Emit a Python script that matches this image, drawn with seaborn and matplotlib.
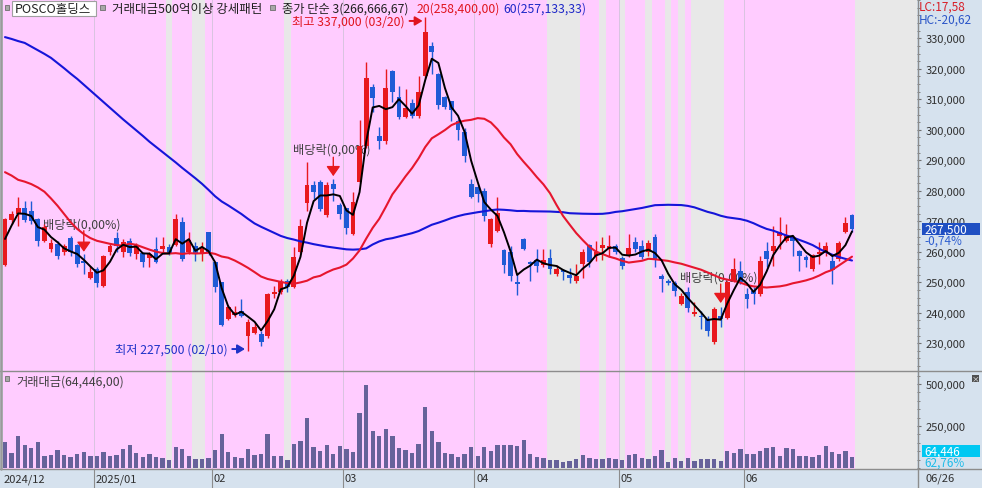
import numpy as np
import pandas as pd
import matplotlib
matplotlib.use("Agg")
import matplotlib.pyplot as plt
import matplotlib.transforms as mtrans
from matplotlib.patches import Rectangle
from matplotlib.lines import Line2D
from matplotlib.ticker import FuncFormatter, FixedLocator
import seaborn as sns

sns.set_theme(style="white")
plt.rcParams['font.family'] = ['Noto Sans CJK KR', 'DejaVu Sans']
plt.rcParams['axes.unicode_minus'] = False

# ---------------- data (thousand won) ----------------
opens_k = [
    255.7, 270.5, 272.4, 274.3, 273.5, 270.8, 263.6, 261.0, 262.6, 259.8,
    264.5, 262.2, 257.0, 251.3, 254.4, 248.7, 259.8, 264.4, 259.8, 263.5,
    259.3, 259.5, 257.9, 261.0, 261.0, 261.7, 262.2, 269.7, 259.8, 262.0,
    259.3, 266.4, 256.6, 250.0, 238.0, 239.3, 240.7, 232.5, 233.5, 233.0,
    232.5, 246.2, 246.7, 250.3, 248.4, 260.0, 276.0, 281.8, 282.8, 272.1,
    282.2, 275.4, 274.3, 265.8, 283.0, 294.8, 313.9, 298.1, 296.2, 319.2,
    310.7, 304.1, 308.7, 304.6, 317.7, 327.6, 318.3, 310.7, 309.4, 302.8,
    299.2, 282.2, 281.1, 280.0, 262.6, 266.9, 260.5, 260.0, 250.0, 264.1,
    256.5, 257.3, 255.7, 257.8, 252.7, 254.1, 252.4, 250.5, 256.0, 262.2,
    258.7, 261.1, 260.8, 262.0, 257.8, 258.7, 263.3, 262.0, 259.8, 264.7,
    252.2, 250.5, 249.7, 242.9, 246.7, 239.6, 239.1, 238.0, 230.3, 238.9,
    238.2, 250.5, 253.8, 246.0, 247.0, 246.2, 260.4, 260.4, 265.3, 263.6,
    264.7, 260.4, 258.2, 254.2, 259.3, 259.8, 257.1, 257.6, 266.6, 272.0]
highs_k = [
    271.2, 273.5, 277.9, 276.8, 276.8, 271.0, 269.1, 264.2, 263.6, 262.5,
    265.3, 262.5, 259.3, 255.4, 254.9, 259.0, 262.6, 266.4, 264.2, 264.5,
    262.9, 260.0, 259.8, 264.7, 264.7, 262.5, 272.4, 271.3, 266.4, 263.2,
    263.2, 266.4, 256.6, 250.0, 242.5, 242.3, 244.5, 238.0, 236.5, 234.0,
    246.5, 248.9, 251.0, 251.0, 261.5, 270.8, 289.5, 283.3, 283.5, 282.8,
    283.9, 276.0, 274.5, 279.7, 303.3, 322.1, 315.0, 300.8, 319.9, 319.5,
    314.5, 313.4, 310.1, 317.7, 337.0, 328.7, 318.5, 311.2, 309.6, 303.5,
    300.5, 283.9, 281.5, 281.0, 271.2, 278.1, 261.0, 261.8, 252.7, 264.5,
    257.1, 260.9, 260.9, 260.9, 255.5, 254.5, 254.6, 256.0, 260.8, 262.4,
    263.6, 264.7, 265.5, 262.5, 258.7, 265.8, 265.0, 264.0, 263.8, 265.8,
    252.7, 251.0, 250.5, 246.5, 248.4, 243.4, 240.5, 239.0, 242.0, 241.8,
    250.3, 257.9, 257.1, 248.0, 248.5, 258.7, 263.1, 268.6, 271.3, 269.1,
    265.3, 260.5, 259.0, 259.3, 263.1, 263.2, 259.0, 263.5, 271.3, 272.5]
lows_k = [
    255.2, 269.1, 268.6, 269.7, 269.1, 261.8, 263.1, 259.8, 257.6, 259.0,
    258.7, 254.9, 252.7, 251.0, 248.4, 248.4, 259.0, 259.8, 258.2, 258.7,
    257.6, 255.0, 254.9, 256.3, 259.5, 259.0, 261.8, 257.1, 259.3, 257.1,
    257.1, 259.0, 246.8, 235.5, 237.5, 238.6, 238.5, 227.5, 233.0, 229.2,
    231.8, 245.0, 246.0, 246.7, 248.0, 259.5, 273.5, 277.3, 273.5, 271.5,
    276.8, 270.8, 265.8, 265.5, 282.5, 294.0, 306.0, 293.7, 295.5, 309.1,
    303.5, 303.8, 304.0, 304.0, 317.0, 318.3, 306.8, 306.8, 303.0, 296.7,
    289.3, 277.5, 276.2, 270.2, 261.5, 266.5, 253.0, 250.5, 245.8, 260.5,
    250.5, 253.5, 255.0, 252.8, 252.0, 250.8, 249.8, 249.8, 251.5, 254.9,
    257.0, 257.3, 258.2, 259.3, 254.4, 258.2, 259.8, 257.6, 258.7, 255.0,
    246.7, 249.0, 245.6, 242.5, 240.2, 239.0, 234.7, 232.5, 229.8, 235.2,
    238.0, 250.0, 249.5, 241.5, 243.0, 245.5, 254.9, 255.4, 261.0, 263.1,
    258.7, 253.8, 254.9, 253.8, 256.0, 258.5, 249.5, 257.0, 266.0, 266.5]
closes_k = [
    270.8, 272.4, 274.5, 270.5, 270.2, 263.6, 268.0, 262.9, 258.5, 262.0,
    259.8, 256.0, 256.3, 253.3, 249.8, 258.7, 261.8, 261.8, 263.3, 259.5,
    262.3, 256.6, 259.3, 256.8, 262.0, 259.6, 270.8, 257.6, 264.0, 259.3,
    261.5, 259.8, 248.4, 236.0, 241.8, 240.3, 238.9, 237.0, 235.3, 230.3,
    246.2, 246.9, 250.0, 248.4, 258.2, 268.4, 281.9, 279.5, 274.0, 281.9,
    280.6, 272.4, 267.7, 276.2, 294.8, 316.9, 310.3, 296.3, 313.7, 312.3,
    304.1, 307.1, 304.6, 312.3, 332.0, 325.6, 308.2, 307.4, 306.5, 299.9,
    291.5, 278.1, 278.9, 271.8, 270.8, 272.7, 255.6, 252.1, 249.5, 260.9,
    256.0, 255.4, 257.3, 254.3, 254.4, 253.4, 251.5, 252.0, 260.0, 256.6,
    259.8, 262.2, 261.9, 260.0, 255.2, 261.1, 261.0, 258.2, 262.9, 257.6,
    251.1, 249.8, 247.2, 245.6, 241.7, 240.1, 238.6, 234.1, 241.2, 237.9,
    250.0, 254.4, 250.0, 244.5, 246.0, 257.1, 257.6, 262.0, 266.6, 265.5,
    263.6, 258.5, 257.4, 259.0, 259.8, 262.0, 254.0, 263.0, 269.5, 267.5]

# 거래대금 (백만원)
amount = [
    156700, 89000, 190000, 137000, 119000, 155000, 71000, 77000, 107000, 75000,
    65000, 83000, 95000, 71000, 71000, 95000, 71000, 77000, 113000, 137000,
    89000, 65000, 83000, 65000, 62000, 48000, 125000, 113000, 71000, 54000,
    54000, 60000, 107000, 202000, 95000, 65000, 60000, 113000, 77000, 83000,
    202000, 71000, 71000, 48000, 143000, 163000, 298000, 125000, 101000, 137000,
    83000, 131000, 113000, 95000, 327000, 494000, 220000, 190000, 232000, 190000,
    119000, 107000, 89000, 143000, 363000, 220000, 155000, 89000, 83000, 65000,
    83000, 125000, 71000, 125000, 101000, 135000, 137000, 137000, 131000, 167000,
    83000, 65000, 60000, 48000, 48000, 36000, 42000, 54000, 77000, 60000,
    54000, 54000, 60000, 54000, 48000, 77000, 83000, 60000, 54000, 71000,
    107000, 36000, 60000, 42000, 60000, 42000, 54000, 54000, 54000, 42000,
    101000, 89000, 113000, 83000, 83000, 101000, 119000, 125000, 71000, 119000,
    113000, 71000, 71000, 65000, 77000, 131000, 95000, 83000, 102680, 64446]

# moving-average values read for bars before enough history exists (thousand won)
ma3_head_k = [264.2, 268.6]
ma20_head_k = [286.1, 285.0, 283.6, 283.0, 282.2, 281.1, 279.7, 277.5, 275.1, 272.4,
               269.7, 267.5, 265.8, 264.5, 263.6, 263.1, 262.6, 262.2, 262.0]
ma60_head_k = [330.4, 329.8, 329.1, 328.5, 327.3, 326.1, 324.9, 323.6, 321.9, 320.2,
               318.4, 316.7, 314.8, 312.9, 311.0, 309.1, 307.2, 305.3, 303.4, 301.6,
               299.8, 298.0, 296.1, 294.4, 292.7, 291.0, 289.3, 287.5, 285.8, 284.1,
               282.3, 280.3, 278.2, 276.5, 275.2, 273.8, 272.4, 270.8, 269.3, 268.2,
               267.2, 266.2, 265.2, 264.5, 264.0, 263.4, 263.0, 262.5, 262.1, 261.7,
               261.4, 261.1, 260.8, 260.7, 260.8, 261.1, 262.4, 263.4, 264.1]

month_start_idx = [14, 32, 52, 72, 94, 113]
month_labels = ["2025/01", "02", "03", "04", "05", "06"]
grey_days = [25, 29, 30, 43, 83, 84, 85, 86, 87, 91, 94, 98, 101, 103,
             105, 106, 107, 108, 109]
dividend_idx = [12, 50, 109]

# ---------------- derived ----------------
O = np.array(opens_k) * 1000
H = np.array(highs_k) * 1000
L = np.array(lows_k) * 1000
C = np.array(closes_k) * 1000
V = np.array(amount, dtype=float)
n = len(C)
idx = np.arange(n)

cs = pd.Series(C)
ma3 = cs.rolling(3).mean().values
ma3[:2] = np.array(ma3_head_k) * 1000
ma20 = cs.rolling(20).mean().values
ma20[:19] = np.array(ma20_head_k) * 1000
ma60 = cs.rolling(60).mean().values
ma60[:59] = np.array(ma60_head_k) * 1000

RED = '#E8191E'
BLUE = '#1F5BD6'
PINK = '#FFCCFF'
GREY = '#E8E8E8'
AXBG = '#D6E2EE'

W, Hh = 982, 489
def fx(px): return px / W
def fy(py): return 1 - py / Hh

fig = plt.figure(figsize=(9.82, 4.89), dpi=100, facecolor=AXBG)
ax = fig.add_axes([fx(3), fy(372), 914 / W, 372 / Hh])
axv = fig.add_axes([fx(3), fy(470), 914 / W, 98 / Hh])
XMIN, XMAX = -0.305, 138.9

for a in (ax, axv):
    a.set_facecolor(PINK)
    for s in a.spines.values():
        s.set_visible(False)
    for g in grey_days:
        a.axvspan(g - 0.5, g + 0.5, color=GREY, lw=0, zorder=0.2)
    a.axvspan(n - 0.5, XMAX + 1, color=GREY, lw=0, zorder=0.2)
    for m in month_start_idx:
        a.axvline(m - 0.5, color='#D8C4E0', lw=0.7, zorder=0.4)

# candles
colors = np.where(C >= O, RED, BLUE)
ax.vlines(idx, L, H, colors=colors, lw=1.0, zorder=3)
body_bot = np.minimum(O, C)
body_h = np.maximum(np.abs(C - O), 350)
ax.bar(idx, body_h, bottom=body_bot, width=0.74, color=colors, lw=0, zorder=4)

# moving averages
sns.lineplot(x=idx, y=ma60, ax=ax, color='#1515D9', lw=1.5, zorder=5, legend=False)
sns.lineplot(x=idx, y=ma20, ax=ax, color='#E6162E', lw=1.5, zorder=5, legend=False)
sns.lineplot(x=idx, y=ma3, ax=ax, color='black', lw=1.4, zorder=6, legend=False)

# volume
axv.bar(idx, V, width=0.66, color='#66629A', lw=0, zorder=3)

for a in (ax, axv):
    a.set_xlim(XMIN, XMAX)
    a.set_xticks([])
    a.set_xlabel('')
    a.set_ylabel('')
ax.set_ylim(220900, 342900)
axv.set_ylim(-6000, 577400)

fmt = FuncFormatter(lambda v, p: f"{int(round(v)):,}")
for a, majors, minors in (
        (ax, list(range(230000, 330001, 10000)), list(range(222500, 342501, 2500))),
        (axv, [250000, 500000], list(range(0, 575001, 50000)))):
    a.yaxis.tick_right()
    a.yaxis.set_major_locator(FixedLocator(majors))
    a.yaxis.set_minor_locator(FixedLocator([m for m in minors if m not in majors]))
    a.yaxis.set_major_formatter(fmt)
    a.tick_params(axis='y', which='major', length=3, width=0.8, color='#707070',
                  labelsize=8, labelcolor='#303030', pad=3, direction='out', right=True, left=False)
    a.tick_params(axis='y', which='minor', length=1.8, width=0.7, color='#808080',
                  direction='out', right=True, left=False)

# annotations inside price panel
TXT = '#404040'
ax.text((43 - 5) / 6.566, 269100, "배당락(0,00%)", fontsize=8.8, color=TXT, va='center', ha='left', zorder=2)
ax.text((293 - 5) / 6.566, 293700, "배당락(0,00%)", fontsize=8.8, color=TXT, va='center', ha='left', zorder=2)
ax.text((680 - 5) / 6.566, 251800, "배당락(0,00%)", fontsize=8.8, color=TXT, va='center', ha='left', zorder=2)
div_top = {12: 266900, 50: 291000, 109: 249400}
div_tip = {12: 260000, 50: 284800, 109: 243200}
for d in dividend_idx:
    ax.annotate('', xy=(d, div_tip[d]), xytext=(d, div_top[d]),
                arrowprops=dict(arrowstyle='-|>,head_width=0.35,head_length=0.5', color=RED,
                                lw=1.0, shrinkA=0, shrinkB=0), zorder=7)

imax = int(np.argmax(H))
imin = int(np.argmin(L))
ax.annotate(f"최고 {int(H[imax]):,} (03/20)", xy=(imax - 0.4, 335700), xytext=(60.9, 335700),
            ha='right', va='center', fontsize=8.8, color='#E0141E',
            arrowprops=dict(arrowstyle='-|>,head_width=0.3,head_length=0.5', color='#E0141E',
                            lw=1.4, shrinkA=1, shrinkB=0), zorder=7)
ax.annotate(f"최저 {int(L[imin]):,} (02/10)", xy=(imin - 0.45, 228100), xytext=(33.9, 228100),
            ha='right', va='center', fontsize=8.8, color='#1E32C8',
            arrowprops=dict(arrowstyle='-|>,head_width=0.3,head_length=0.5', color='#1E32C8',
                            lw=1.4, shrinkA=1, shrinkB=0), zorder=7)

# date band
bt = mtrans.blended_transform_factory(axv.transData, axv.transAxes)
axv.text(XMIN + 0.15, -0.095, "2024/12", transform=bt, fontsize=8, color='#303030',
         ha='left', va='center')
for m, lab in zip(month_start_idx, month_labels):
    axv.text(m - 0.5 + 0.25, -0.095, lab, transform=bt, fontsize=8, color='#303030',
             ha='left', va='center')
    axv.plot([m - 0.5, m - 0.5], [0, -0.2], transform=bt, color='#8C8C8C', lw=0.8, clip_on=False)

# frame lines
for yy in (372, 470):
    fig.add_artist(Line2D([0, 1], [fy(yy), fy(yy)], color='#8C8C8C', lw=1.0, transform=fig.transFigure))
fig.add_artist(Line2D([fx(917.5), fx(917.5)], [0, 1], color='#8C8C8C', lw=1.0, transform=fig.transFigure))
fig.add_artist(Line2D([fx(1.2), fx(1.2)], [fy(470), 1], color='#9A9A9A', lw=1.8, transform=fig.transFigure))

def marker(px, py):
    fig.add_artist(Rectangle((fx(px), fy(py + 5)), 4.5 / W, 5 / Hh, facecolor='#A8A8A8',
                             edgecolor='#6E6E6E', lw=0.6, transform=fig.transFigure))

# header
marker(4.5, 6)
fig.add_artist(Rectangle((fx(12), fy(16.5)), 84 / W, 15 / Hh, facecolor='white',
                         edgecolor='#A0A0A0', lw=0.8, transform=fig.transFigure))
fig.text(fx(15), fy(9.5), "POSCO홀딩스", fontsize=9, color='#202020', va='center', ha='left')
marker(100, 6)
fig.text(fx(112), fy(9.5), "거래대금500억이상 강세패턴", fontsize=9, color='#202020', va='center', ha='left')
marker(270, 6)
fig.text(fx(282), fy(9.5), f"종가 단순 3({ma3[-1]:,.2f})".replace('.', ','), fontsize=8.8,
         color='#202020', va='center', ha='left')
fig.text(fx(417), fy(9.5), f"20({ma20[-1]:,.2f})".replace('.', ','), fontsize=8.8,
         color='#E0141E', va='center', ha='left')
fig.text(fx(503), fy(9.5), f"60({ma60[-1]:,.2f})".replace('.', ','), fontsize=8.8,
         color='#1E28C8', va='center', ha='left')

# right side labels
fig.text(fx(919), fy(7.5), "LC:17,58", fontsize=8.5, color='#D81E28', va='center', ha='left')
fig.text(fx(919), fy(20.5), "HC:-20,62", fontsize=8.5, color='#2A55C8', va='center', ha='left')

last_y = ax.transData.transform((0, C[-1]))[1]
ly = Hh - last_y
fig.add_artist(Rectangle((fx(922), fy(ly + 6)), 58 / W, 12 / Hh, facecolor='#1F4FC2',
                         edgecolor='none', transform=fig.transFigure, zorder=5))
fig.text(fx(924), fy(ly), f"{int(C[-1]):,}", fontsize=8.5, color='white', va='center', ha='left', zorder=6)
chg = (C[-1] / C[-2] - 1) * 100
fig.text(fx(924), fy(ly + 11.5), f"{chg:.2f}%".replace('.', ','), fontsize=8.5, color='#2F5FD0',
         va='center', ha='left')

vy = Hh - axv.transData.transform((0, V[-1]))[1]
fig.add_artist(Rectangle((fx(922), fy(vy)), 58 / W, 12 / Hh, facecolor='#00C8F2',
                         edgecolor='none', transform=fig.transFigure, zorder=5))
fig.text(fx(924), fy(vy - 6), f"{int(V[-1]):,}", fontsize=8.5, color='white', va='center', ha='left', zorder=6)
fig.text(fx(924), fy(vy + 5), f"{V[-1] / V[-2] * 100:.2f}%".replace('.', ','), fontsize=8.5,
         color='#20BCE8', va='center', ha='left')

fig.add_artist(Rectangle((fx(972), fy(382.5)), 7 / W, 7 / Hh, facecolor='#505050',
                         edgecolor='none', transform=fig.transFigure))
fig.text(fx(975.5), fy(379), "×", fontsize=5.5, color='white', va='center', ha='center')

marker(4.5, 377)
fig.text(fx(16), fy(382), f"거래대금({int(V[-1]):,},00)", fontsize=8.8, color='#404040',
         va='center', ha='left')
fig.text(fx(925), fy(479), "06/26", fontsize=8, color='#303030', va='center', ha='left')

fig.savefig("out.png", dpi=100, facecolor=AXBG)
